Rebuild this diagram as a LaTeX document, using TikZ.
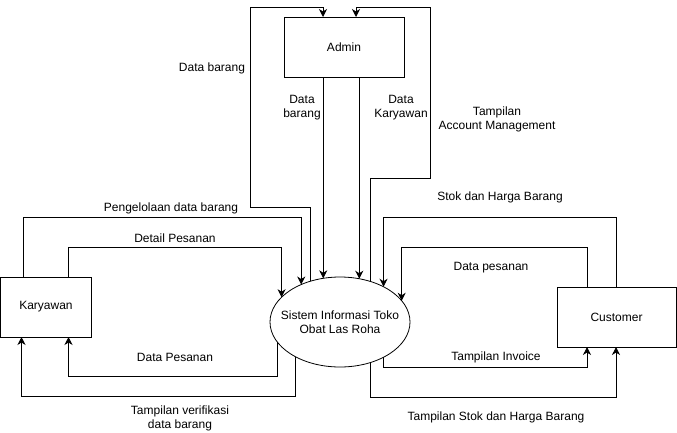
\documentclass[tikz,border=0pt]{standalone}
\usepackage{fontspec}
\setmainfont{Liberation Sans}
\usetikzlibrary{arrows.meta,shapes.geometric}
\begin{document}
\begin{tikzpicture}[x=1pt,y=-1pt,line width=0.8pt,
  font=\fontsize{12pt}{14pt}\selectfont,
  entity/.style={draw,rectangle,inner sep=0pt,outer sep=0pt,minimum height=60pt},
  flow/.style={-{Stealth[length=8pt,width=8pt,inset=2.5pt]}}]
\useasboundingbox (0,0) rectangle (677,432);
\node[entity,minimum width=120pt] (admin) at (344,47) {Admin};
\node[entity,minimum width=91pt] (kary) at (46,307) {Karyawan};
\node[entity,minimum width=119pt] (cust) at (616.5,317) {Customer};
\node[draw,ellipse,inner sep=0pt,outer sep=0pt,minimum width=140pt,minimum height=90pt] (sys) at (340,322) {};
\node[align=center] (syslabel) at (sys) {Sistem Informasi Toko\\Obat Las Roha};
% admin
\draw[flow] (sys.126.4) -- ++(0,-74) -- ++(-60,0) -- ++(0,-200) -| ([xshift=-21pt]admin.north);
\draw[flow] (sys.53.6) -- ++(0,-103) -- ++(60,0) -- ++(0,-171) -| ([xshift=12pt]admin.north);
\draw[flow] (sys.111.3 |- admin.south) -- (sys.111.3);
\draw[flow] (sys.66.3 |- admin.south) -- (sys.66.3);
% karyawan
\draw[flow] ([xshift=23pt]kary.north west) -- ++(0,-60) -| (sys.136.2);
\draw[flow] ([xshift=68pt]kary.north west) -- ++(0,-30) -| (sys.157.7);
\draw[flow] (sys.198.6) -- ++(0,34) -| ([xshift=68pt]kary.south west);
\draw[flow] (sys.218.5) -- ++(0,40) -| ([xshift=21pt]kary.south west);
% customer
\draw[flow] ([xshift=59pt]cust.north west) -- ++(0,-70) -| (sys.39.5);
\draw[flow] ([xshift=30pt]cust.north west) -- ++(0,-40) -| (sys.19.9);
\draw[flow] (sys.-39.5) -- ++(0,10) -| ([xshift=30pt]cust.south west);
\draw[flow] (sys.-53.6) -- ++(0,35) -| ([xshift=59pt]cust.south west);
% labels
\node (l1) at (212,68) {Data barang};
\node[align=center] (l2) at (302,108) {Data\\barang};
\node[align=center] (l3) at (401,108) {Data\\Karyawan};
\node[align=center] (l4) at (497,119) {Tampilan\\Account Management};
\node (l5) at (171,208) {Pengelolaan data barang};
\node (l6) at (175,238) {Detail Pesanan};
\node (l7) at (175,357) {Data Pesanan};
\node[align=center] (l8) at (180,418) {Tampilan verifikasi\\data barang};
\node (l9) at (500,197) {Stok dan Harga Barang};
\node (l10) at (491,268) {Data pesanan};
\node (l11) at (496,357) {Tampilan Invoice};
\node (l12) at (496,417) {Tampilan Stok dan Harga Barang};
\end{tikzpicture}
\end{document}
